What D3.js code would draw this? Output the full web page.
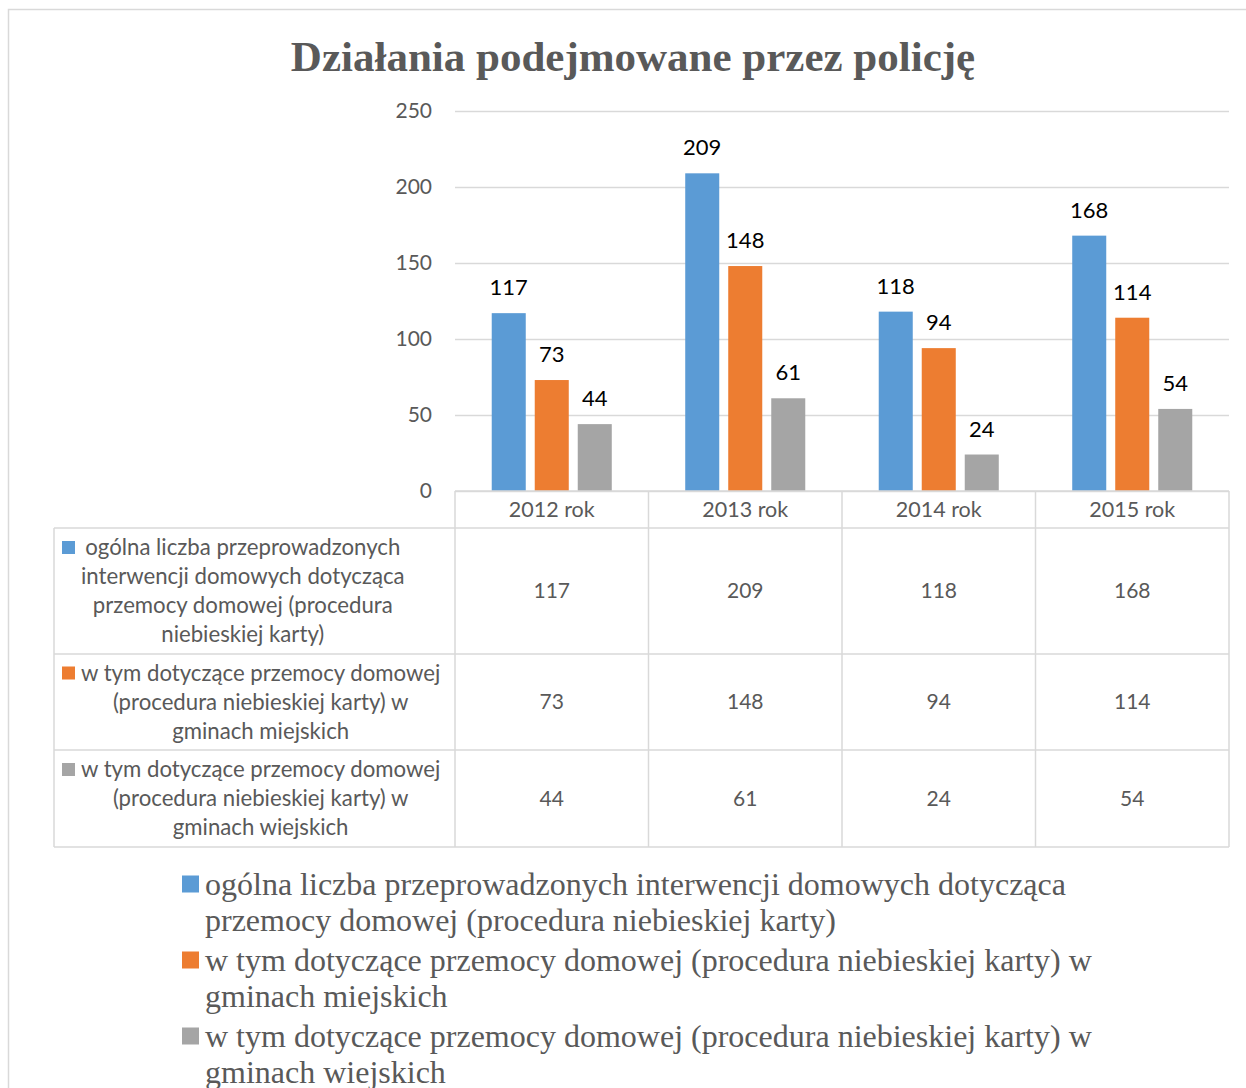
<!DOCTYPE html>
<html>
<head>
<meta charset="utf-8">
<script src="https://cdn.jsdelivr.net/npm/d3@7"></script>
<style>
  body { margin: 0; background: #fff; }
  svg { display: block; }
</style>
</head>
<body>
<div class="chart"></div>
<script>
// data
const categories = ['2012 rok', '2013 rok', '2014 rok', '2015 rok']
const seriesKeys = ['total', 'urban', 'rural']
const totalValues = [117, 209, 118, 168]
const urbanValues = [73, 148, 94, 114]
const ruralValues = [44, 61, 24, 54]
const yTicks = [0, 50, 100, 150, 200, 250]
const titleText = 'Działania podejmowane przez policję'

// series names, already broken into lines the way the picture shows them
const tableLabelLines = [
  ['ogólna liczba przeprowadzonych', 'interwencji domowych dotycząca', 'przemocy domowej (procedura', 'niebieskiej karty)'],
  ['w tym dotyczące przemocy domowej', '(procedura niebieskiej karty) w', 'gminach miejskich'],
  ['w tym dotyczące przemocy domowej', '(procedura niebieskiej karty) w', 'gminach wiejskich']
]
const legendLines = [
  ['ogólna liczba przeprowadzonych interwencji domowych dotycząca', 'przemocy domowej (procedura niebieskiej karty)'],
  ['w tym dotyczące przemocy domowej (procedura niebieskiej karty) w', 'gminach miejskich'],
  ['w tym dotyczące przemocy domowej (procedura niebieskiej karty) w', 'gminach wiejskich']
]

const seriesValues = [totalValues, urbanValues, ruralValues]
const data = categories.map((c, i) => ({
  cat: c,
  values: seriesKeys.map((k, j) => ({key: k, value: seriesValues[j][i]}))
}))

const W = 1246
const H = 1088
const sans = 'Lato, "Open Sans", sans-serif'
const serif = '"Liberation Serif", "Times New Roman", serif'
const textGrey = '#595959'
const lineGrey = '#d9d9d9'

const color = d3.scaleOrdinal()
  .domain(seriesKeys)
  .range(['#5b9bd5', '#ed7d31', '#a5a5a5'])

const plot = {left: 455, right: 1229, top: 111, bottom: 491}

const x = d3.scaleBand()
  .domain(categories)
  .range([plot.left, plot.right])

const xInner = d3.scaleBand()
  .domain(seriesKeys)
  .range([0, x.bandwidth()])
  .paddingInner(0.209)
  .paddingOuter(0.854)

const y = d3.scaleLinear()
  .domain([0, 250])
  .range([plot.bottom, plot.top])

const svg = d3.select('.chart')
  .append('svg')
    .attr('width', W)
    .attr('height', H)

// outer chart border (runs off the right and bottom of the picture)
svg.append('rect')
  .attr('x', 8.5)
  .attr('y', 9.5)
  .attr('width', W + 20)
  .attr('height', H + 20)
  .attr('fill', '#fff')
  .attr('stroke', lineGrey)
  .attr('stroke-width', 1.5)

svg.append('text')
  .attr('x', 633)
  .attr('y', 71)
  .attr('text-anchor', 'middle')
  .style('font-family', serif)
  .style('font-weight', 'bold')
  .style('font-size', '43px')
  .style('fill', textGrey)
  .text(titleText)

// y axis with gridlines
const yAxis = d3.axisLeft(y)
  .tickValues(yTicks)
  .tickSize(-(plot.right - plot.left))
  .tickPadding(23)

const yG = svg.append('g')
  .attr('transform', `translate(${plot.left},0)`)
  .call(yAxis)

yG.select('.domain').remove()
yG.selectAll('.tick line')
  .attr('stroke', lineGrey)
  .attr('stroke-width', 1.3)
yG.selectAll('.tick text')
  .style('font-family', sans)
  .style('font-size', '21px')
  .style('fill', textGrey)

// bars
const groups = svg.append('g')
  .selectAll('g')
  .data(data)
  .enter().append('g')
    .attr('transform', (d) => `translate(${x(d.cat)},0)`)

groups.selectAll('rect')
  .data((d) => d.values)
  .enter().append('rect')
    .attr('x', (d) => xInner(d.key))
    .attr('width', xInner.bandwidth())
    .attr('y', (d) => y(d.value))
    .attr('height', (d) => y(0) - y(d.value))
    .attr('fill', (d) => color(d.key))

groups.selectAll('text.label')
  .data((d) => d.values)
  .enter().append('text')
    .attr('class', 'label')
    .attr('x', (d) => xInner(d.key) + xInner.bandwidth() / 2)
    .attr('y', (d) => y(d.value) - 18)
    .attr('text-anchor', 'middle')
    .style('font-family', sans)
    .style('font-size', '22px')
    .style('fill', '#000')
    .text((d) => d.value)

// data table
const rowEdges = [528, 654, 750, 847]
const tableLeft = 54
const table = svg.append('g')
  .attr('fill', 'none')
  .attr('stroke', lineGrey)
  .attr('stroke-width', 1.5)

table.append('line')
  .attr('x1', plot.left).attr('x2', plot.right)
  .attr('y1', plot.bottom).attr('y2', plot.bottom)

table.selectAll('line.h')
  .data(rowEdges)
  .enter().append('line')
    .attr('class', 'h')
    .attr('x1', tableLeft).attr('x2', plot.right)
    .attr('y1', (d) => d).attr('y2', (d) => d)

const colEdges = categories.map((c) => x(c)).concat([x(categories[categories.length - 1]) + x.bandwidth()])

table.selectAll('line.v')
  .data(colEdges)
  .enter().append('line')
    .attr('class', 'v')
    .attr('x1', (d) => d).attr('x2', (d) => d)
    .attr('y1', plot.bottom).attr('y2', rowEdges[rowEdges.length - 1])

table.append('line')
  .attr('x1', tableLeft).attr('x2', tableLeft)
  .attr('y1', rowEdges[0]).attr('y2', rowEdges[rowEdges.length - 1])

// header row with years
svg.append('g')
  .selectAll('text')
  .data(categories)
  .enter().append('text')
    .attr('x', (d) => x(d) + x.bandwidth() / 2)
    .attr('y', (plot.bottom + rowEdges[0]) / 2)
    .attr('dy', '0.35em')
    .attr('text-anchor', 'middle')
    .style('font-family', sans)
    .style('font-size', '21.5px')
    .style('fill', textGrey)
    .text((d) => d)

// value cells
seriesKeys.forEach((k, j) => {
  const cy = (rowEdges[j] + rowEdges[j + 1]) / 2
  svg.append('g')
    .selectAll('text')
    .data(seriesValues[j])
    .enter().append('text')
      .attr('x', (d, i) => x(categories[i]) + x.bandwidth() / 2)
      .attr('y', cy)
      .attr('dy', '0.35em')
      .attr('text-anchor', 'middle')
      .style('font-family', sans)
      .style('font-size', '21px')
      .style('fill', textGrey)
      .text((d) => d)
})

// row headers with legend keys
const lineH = 29
seriesKeys.forEach((k, j) => {
  const lines = tableLabelLines[j]
  const cy = (rowEdges[j] + rowEdges[j + 1]) / 2
  const y0 = cy - (lines.length - 1) * lineH / 2
  const g = svg.append('g')
  const texts = g.selectAll('text')
    .data(lines)
    .enter().append('text')
      .attr('y', (d, i) => y0 + i * lineH)
      .attr('dy', '0.35em')
      .attr('text-anchor', 'middle')
      .style('font-family', sans)
      .style('font-size', '22.2px')
      .style('fill', textGrey)
      .text((d) => d)
  let maxW = 0
  texts.each(function () { maxW = Math.max(maxW, this.getComputedTextLength()) })
  texts.attr('x', 81 + maxW / 2)
  g.append('rect')
    .attr('x', 62)
    .attr('y', y0 - 6.5)
    .attr('width', 13)
    .attr('height', 13)
    .attr('fill', color(k))
})

// legend at the bottom
const legend = svg.append('g')
const legendTop = 884
const legendStep = 76
const legendLineH = 36
seriesKeys.forEach((k, j) => {
  const cy = legendTop + j * legendStep
  legend.append('rect')
    .attr('x', 182)
    .attr('y', cy - 8.5)
    .attr('width', 17)
    .attr('height', 17)
    .attr('fill', color(k))
  legend.append('g')
    .selectAll('text')
    .data(legendLines[j])
    .enter().append('text')
      .attr('x', 205)
      .attr('y', (d, i) => cy + i * legendLineH)
      .attr('dy', '0.35em')
      .style('font-family', serif)
      .style('font-size', '32px')
      .style('fill', textGrey)
      .text((d) => d)
})
</script>
</body>
</html>
